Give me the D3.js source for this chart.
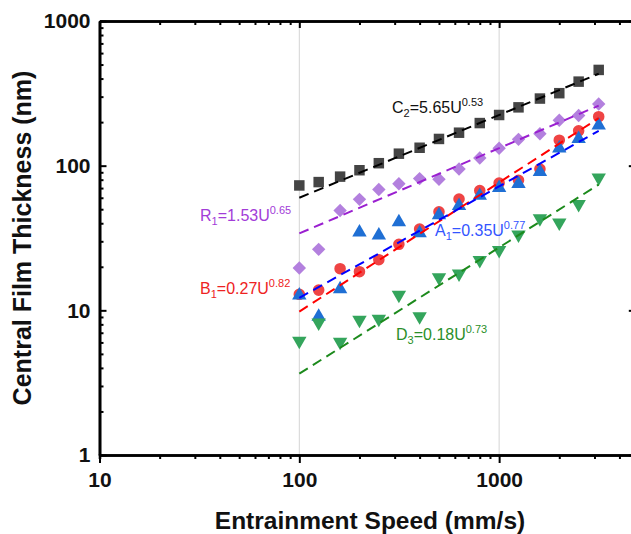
<!DOCTYPE html>
<html>
<head>
<meta charset="utf-8">
<script src="https://cdn.jsdelivr.net/npm/d3@7/dist/d3.min.js"></script>
<style>
html,body{margin:0;padding:0;background:#fff;}
svg{display:block;}
text{font-family:"Liberation Sans",Arial,Helvetica,sans-serif;}
</style>
</head>
<body>
<svg id="chart" width="631" height="534"></svg>
<script>
// ---- data ----
const speeds = [100,125,160,200,250,315,400,500,630,800,1000,1250,1600,2000,2500,3150];
const seriesC2 = [73,77,84,93,104,121,133,153,169,197,224,253,291,317,381,459];
const seriesR1 = [19.6,26.4,49,58.5,68.5,75,81.4,80.5,94.7,113,132,152,166,206,222,267];
const seriesB1 = [12.9,13.8,19.4,18.5,22.4,28.6,36.5,48,58.8,67.3,75.8,79.2,94.7,150,174,218];
const seriesA1 = [12.7,9.07,14,34.6,33,40.7,34.2,45.6,52.7,62,70.3,75,90.7,132,153,190];
const seriesD3 = [6.14,8.23,6.04,8.59,8.73,12.8,9.07,16.9,17.9,22.2,26.1,33.3,43.2,40.3,54.2,82.7];
// fitted power-law lines, end points
const fitX = [100, 3150];
const fitC2 = [60, 432];
const fitR1 = [34, 260];
const fitB1 = [9.8, 213];
const fitA1 = [12.2, 174];
const fitD3 = [3.65, 74];
const fitLabels = [
  {name:"C", sub:"2", coef:"=5.65U", exp:"0.53"},
  {name:"R", sub:"1", coef:"=1.53U", exp:"0.65"},
  {name:"B", sub:"1", coef:"=0.27U", exp:"0.82"},
  {name:"A", sub:"1", coef:"=0.35U", exp:"0.77"},
  {name:"D", sub:"3", coef:"=0.18U", exp:"0.73"}
];
const xTickLabels = [10, 100, 1000];
const yTickLabels = [1, 10, 100, 1000];
const xTitle = "Entrainment Speed (mm/s)";
const yTitle = "Central Film Thickness (nm)";

// ---- layout / styles ----
const svg = d3.select("#chart");
const pLeft = 99.5, pRight = 638.8, pTop = 21, pBottom = 455;
const x = d3.scaleLog().domain([10, 5000]).range([pLeft, pRight]);
const y = d3.scaleLog().domain([1, 1000]).range([pBottom, pTop]);

const xMinor = [], yMinor = [];
[10,100,1000].forEach(d => { for (let k=2;k<=9;k++) if (d*k<=5000) xMinor.push(d*k); });
[1,10,100].forEach(d => { for (let k=2;k<=9;k++) yMinor.push(d*k); });

// grid lines
svg.append("g").selectAll("line").data([100,1000]).join("line")
  .attr("x1", d=>x(d)).attr("x2", d=>x(d))
  .attr("y1", y(1)).attr("y2", y(1000))
  .attr("stroke", "#d4d4d4").attr("stroke-width", 1);

function styleAxis(g){
  g.select(".domain").attr("stroke","#000").attr("stroke-width",2.6);
  g.selectAll(".tick line").attr("stroke","#000").attr("stroke-width",2);
  g.selectAll(".tick text").attr("fill","#111")
    .style("font-size","21px").style("font-weight","bold")
    .style("font-family","'Liberation Sans',Arial,sans-serif");
}

// bottom axis
svg.append("g").attr("transform",`translate(0,${pBottom})`)
  .call(d3.axisBottom(x).tickValues(xMinor).tickSize(4).tickFormat("")).call(styleAxis);
svg.append("g").attr("transform",`translate(0,${pBottom})`)
  .call(d3.axisBottom(x).tickValues(xTickLabels).tickSizeInner(8).tickSizeOuter(0).tickPadding(9).tickFormat(d3.format("d"))).call(styleAxis);
// top axis (inward ticks)
svg.append("g").attr("transform",`translate(0,${pTop})`)
  .call(d3.axisTop(x).tickValues(xMinor).tickSizeInner(-4).tickSizeOuter(0).tickFormat("")).call(styleAxis);
svg.append("g").attr("transform",`translate(0,${pTop})`)
  .call(d3.axisTop(x).tickValues(xTickLabels).tickSizeInner(-7).tickSizeOuter(0).tickFormat("")).call(styleAxis);
// left axis (inward ticks)
svg.append("g").attr("transform",`translate(${pLeft},0)`)
  .call(d3.axisLeft(y).tickValues(yMinor).tickSizeInner(-4).tickSizeOuter(0).tickFormat("")).call(styleAxis);
svg.append("g").attr("transform",`translate(${pLeft},0)`)
  .call(d3.axisLeft(y).tickValues(yTickLabels).tickSizeInner(-7).tickSizeOuter(0).tickPadding(9).tickFormat(d3.format("d"))).call(styleAxis);
// right axis (inward ticks)
svg.append("g").attr("transform",`translate(${pRight},0)`)
  .call(d3.axisRight(y).tickValues(yMinor).tickSizeInner(-4).tickSizeOuter(0).tickFormat("")).call(styleAxis);
svg.append("g").attr("transform",`translate(${pRight},0)`)
  .call(d3.axisRight(y).tickValues(yTickLabels).tickSizeInner(-10).tickSizeOuter(0).tickFormat("")).call(styleAxis);

// series
const series = [
  {vals:seriesC2, fit:fitC2, shape:d3.symbolSquare, size:110, rot:0, fill:"#444444", line:"#000000"},
  {vals:seriesR1, fit:fitR1, shape:d3.symbolDiamond2, size:115, rot:0, fill:"#b380de", line:"#9a1fd0"},
  {vals:seriesB1, fit:fitB1, shape:d3.symbolCircle, size:105, rot:0, fill:"#ef4444", line:"#ff0000"},
  {vals:seriesA1, fit:fitA1, shape:d3.symbolTriangle, size:90, rot:0, fill:"#1f6fd4", line:"#0000ff"},
  {vals:seriesD3, fit:fitD3, shape:d3.symbolTriangle, size:90, rot:180, fill:"#34a55c", line:"#1c8a1c"}
];

const marks = svg.append("g");
series.forEach(s => {
  marks.append("g").selectAll("path").data(speeds.map((u,i)=>[u,s.vals[i]])).join("path")
    .attr("d", d3.symbol(s.shape, s.size))
    .attr("transform", d=>`translate(${x(d[0])},${y(d[1])}) rotate(${s.rot})`)
    .attr("fill", s.fill);
});
const lineGen = d3.line().x(d=>x(d[0])).y(d=>y(d[1]));
series.forEach(s => {
  svg.append("path").datum(fitX.map((u,i)=>[u,s.fit[i]]))
    .attr("d", lineGen).attr("fill","none")
    .attr("stroke", s.line).attr("stroke-width",2)
    .attr("stroke-dasharray","10,6");
});

// fit labels
const labelPos = [
  {x:392, y:113, color:"#111111"},
  {x:200, y:221, color:"#a23cd8"},
  {x:200, y:294, color:"#ee2222"},
  {x:435, y:236, color:"#3355ff"},
  {x:396, y:340, color:"#2a8f2a"}
];
fitLabels.forEach((l,i) => {
  const p = labelPos[i];
  const t = svg.append("text").attr("x",p.x).attr("y",p.y).attr("fill",p.color).style("font-size","16px");
  t.append("tspan").text(l.name);
  t.append("tspan").text(l.sub).style("font-size","11px").attr("dy",4);
  t.append("tspan").text(l.coef).attr("dy",-4);
  t.append("tspan").text(l.exp).style("font-size","11px").attr("dy",-7);
});

// axis titles
svg.append("text").attr("x",370).attr("y",529).attr("text-anchor","middle")
  .style("font-size","24.5px").style("font-weight","bold").attr("fill","#111").text(xTitle);
svg.append("text").attr("transform","translate(31,238) rotate(-90)").attr("text-anchor","middle")
  .style("font-size","25px").style("font-weight","bold").attr("fill","#111").text(yTitle);
</script>
</body>
</html>
